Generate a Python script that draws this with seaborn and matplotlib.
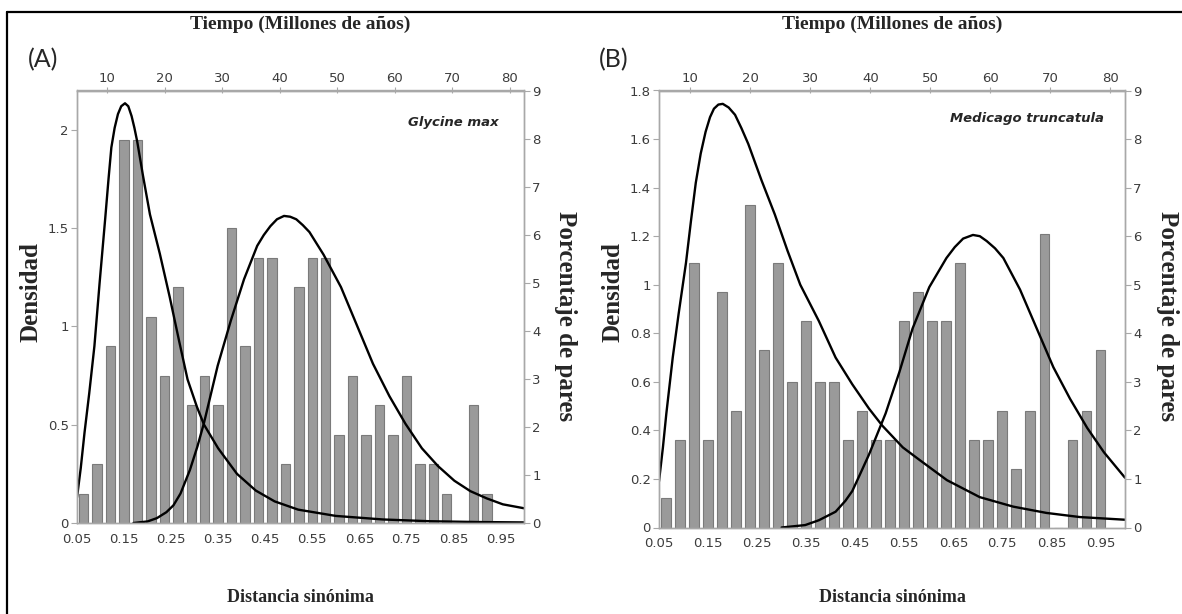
import numpy as np
import pandas as pd
import matplotlib
matplotlib.use("Agg")
import matplotlib.pyplot as plt
from matplotlib.lines import Line2D
from matplotlib.ticker import FuncFormatter
import seaborn as sns

# Ks histogram: density per bin, bins of width 1/35 starting at Ks = 0.05
bin_start = 0.05
bin_width = 1 / 35
dens_glycine = [0.15, 0.30, 0.90, 1.95, 1.95, 1.05, 0.75, 1.20, 0.60, 0.75,
                0.60, 1.50, 0.90, 1.35, 1.35, 0.30, 1.20, 1.35, 1.35, 0.45,
                0.75, 0.45, 0.60, 0.45, 0.75, 0.30, 0.30, 0.15, 0.0, 0.60,
                0.15]
dens_medicago = [0.12, 0.36, 1.09, 0.36, 0.97, 0.48, 1.33, 0.73, 1.09, 0.60,
                 0.85, 0.60, 0.60, 0.36, 0.48, 0.36, 0.36, 0.85, 0.97, 0.85,
                 0.85, 1.09, 0.36, 0.36, 0.48, 0.24, 0.48, 1.21, 0.0, 0.36,
                 0.48, 0.73]

# fitted components (Ks, density)
gly_c1_ks = [0.05, 0.058, 0.066, 0.076, 0.087, 0.098, 0.11, 0.117, 0.123, 0.13,
             0.137, 0.144, 0.152, 0.159, 0.166, 0.172, 0.178, 0.19, 0.205, 0.226,
             0.247, 0.268, 0.285, 0.305, 0.32, 0.35, 0.39, 0.43, 0.47, 0.52,
             0.6, 0.7, 0.8, 0.9, 1.0]
gly_c1_d = [0.13, 0.28, 0.46, 0.66, 0.90, 1.22, 1.55, 1.75, 1.91, 2.01,
            2.08, 2.12, 2.135, 2.12, 2.07, 2.01, 1.94, 1.77, 1.57, 1.37,
            1.15, 0.915, 0.73, 0.59, 0.50, 0.38, 0.25, 0.165, 0.11, 0.068,
            0.036, 0.018, 0.009, 0.005, 0.003]
gly_c2_ks = [0.17, 0.2, 0.22, 0.24, 0.255, 0.27, 0.29, 0.306, 0.32, 0.349,
             0.377, 0.405, 0.433, 0.447, 0.461, 0.475, 0.49, 0.503, 0.516, 0.53,
             0.544, 0.574, 0.611, 0.645, 0.679, 0.714, 0.748, 0.783, 0.817, 0.852,
             0.886, 0.921, 0.955, 1.0]
gly_c2_d = [0.0, 0.008, 0.025, 0.055, 0.09, 0.15, 0.27, 0.39, 0.51, 0.80,
            1.03, 1.24, 1.41, 1.465, 1.51, 1.545, 1.562, 1.558, 1.545, 1.515,
            1.48, 1.365, 1.20, 1.005, 0.81, 0.645, 0.505, 0.38, 0.29, 0.215,
            0.162, 0.125, 0.095, 0.075]

med_c1_ks = [0.05, 0.058, 0.065, 0.078, 0.09, 0.105, 0.115, 0.125, 0.135, 0.145,
             0.154, 0.162, 0.171, 0.18, 0.192, 0.205, 0.218, 0.232, 0.259, 0.286,
             0.312, 0.338, 0.376, 0.41, 0.444, 0.478, 0.505, 0.547, 0.58, 0.637,
             0.704, 0.772, 0.84, 0.908, 1.0]
med_c1_d = [0.19, 0.33, 0.47, 0.70, 0.88, 1.09, 1.26, 1.42, 1.54, 1.63,
            1.69, 1.725, 1.742, 1.745, 1.73, 1.70, 1.645, 1.58, 1.43, 1.29,
            1.14, 1.0, 0.85, 0.70, 0.59, 0.49, 0.42, 0.33, 0.28, 0.195,
            0.125, 0.086, 0.06, 0.043, 0.032]
med_c2_ks = [0.3, 0.348, 0.376, 0.41, 0.43, 0.444, 0.46, 0.478, 0.495, 0.512,
             0.54, 0.567, 0.601, 0.636, 0.653, 0.67, 0.69, 0.704, 0.718, 0.735,
             0.752, 0.786, 0.82, 0.854, 0.888, 0.923, 0.957, 1.0]
med_c2_d = [0.0, 0.01, 0.03, 0.065, 0.11, 0.15, 0.22, 0.30, 0.385, 0.47,
            0.64, 0.82, 0.99, 1.11, 1.155, 1.19, 1.205, 1.20, 1.18, 1.15,
            1.11, 0.98, 0.82, 0.66, 0.53, 0.41, 0.31, 0.205]

ks_ticks = [0.05, 0.15, 0.25, 0.35, 0.45, 0.55, 0.65, 0.75, 0.85, 0.95]
myr_ticks = [10, 20, 30, 40, 50, 60, 70, 80]
pct_ticks = list(range(10))


# Ks <-> millions of years
def to_myr(k):
    return (np.asarray(k) + 0.0085) / 0.01223


def to_ks(t):
    return np.asarray(t) * 0.01223 - 0.0085


BAR = "#9a9a9a"
BAR_EDGE = "#7a7a7a"
SPINE = "#a8a8a8"
TICK_TXT = "#3c3c3c"
SERIF = "Liberation Serif"

sns.set_style("white")
plt.rcParams["font.family"] = ["DejaVu Sans"]

fig = plt.figure(figsize=(11.82, 6.14), dpi=100)
W, H = 1182, 614


def draw_panel(rect, dens, curves, ymax, yticks, pct_max, species, lab):
    x0, x1, top, bot = rect
    ax = fig.add_axes([x0 / W, 1 - bot / H, (x1 - x0) / W, (bot - top) / H])

    edges = [bin_start + bin_width * i for i in range(len(dens) + 1)]
    hist = pd.DataFrame({"ks": [e + bin_width / 2 for e in edges[:-1]],
                         "dens": dens})
    sns.histplot(data=hist, x="ks", weights="dens", bins=edges, shrink=0.7,
                 color=BAR, edgecolor=BAR_EDGE, linewidth=0.8, alpha=1, ax=ax)
    for ks, d in curves:
        sns.lineplot(x=ks, y=d, color="black", linewidth=1.7, ax=ax)

    ax.set_xlim(0.05, 1.0)
    ax.set_ylim(0, ymax)
    ax.set_xlabel("")
    ax.set_ylabel("")
    ax.set_xticks(ks_ticks)
    ax.xaxis.set_major_formatter(FuncFormatter(lambda v, p: f"{v:.2f}"))
    ax.set_yticks(yticks)
    ax.yaxis.set_major_formatter(FuncFormatter(lambda v, p: f"{v:g}"))
    ax.tick_params(axis="x", bottom=True, length=0, pad=7,
                   labelsize=9.5, labelcolor=TICK_TXT)
    ax.tick_params(axis="y", left=True, length=4, width=0.8, color=SPINE,
                   pad=2, labelsize=9.5, labelcolor=TICK_TXT)

    ax2 = ax.twinx()
    ax2.set_ylim(0, pct_max)
    ax2.set_yticks(pct_ticks)
    ax2.tick_params(axis="y", right=True, length=4, width=0.8, color=SPINE,
                    pad=2, labelsize=9.5, labelcolor=TICK_TXT)

    sec = ax.secondary_xaxis("top", functions=(to_myr, to_ks))
    sec.set_xticks(myr_ticks)
    sec.tick_params(axis="x", length=4, width=0.8, color=SPINE, direction="inout",
                    pad=2, labelsize=9.5, labelcolor=TICK_TXT)

    for a in (ax, ax2, sec):
        for s in a.spines.values():
            s.set_color(SPINE)
            s.set_linewidth(1.0)

    w, h = x1 - x0, bot - top

    def axc(px, py):
        return (px - x0) / w, (bot - py) / h

    ax.text(*axc(x0 - 46, 292), "Densidad", transform=ax.transAxes,
            rotation=90, ha="center", va="center", fontsize=18,
            fontweight="bold", family=SERIF)
    ax.text(*axc(x1 + 42, 316), "Porcentaje de pares", transform=ax.transAxes,
            rotation=-90, ha="center", va="center", fontsize=18,
            fontweight="bold", family=SERIF)
    ax.text(0.5, axc(0, 598)[1], "Distancia sinónima", transform=ax.transAxes,
            ha="center", va="center", fontsize=13, fontweight="bold", family=SERIF)
    ax.text(0.5, axc(0, 24)[1], "Tiempo (Millones de años)", transform=ax.transAxes,
            ha="center", va="center", fontsize=14, fontweight="bold", family=SERIF)
    ax.text(species[1], species[2], species[0], transform=ax.transAxes,
            ha="right", va="center", fontsize=9.5, fontweight="bold",
            fontstyle="italic")
    fig.text(lab[1] / W, 1 - 60 / H, lab[0], ha="center", va="center",
             fontsize=18, family="Lato")
    return ax


draw_panel((77, 524, 90.5, 523), dens_glycine,
           [(gly_c1_ks, gly_c1_d), (gly_c2_ks, gly_c2_d)],
           2.2, [0, 0.5, 1, 1.5, 2], 9,
           ("Glycine max", 0.944, 0.926), ("(A)", 43))
draw_panel((659, 1125, 90.5, 527.5), dens_medicago,
           [(med_c1_ks, med_c1_d), (med_c2_ks, med_c2_d)],
           1.8, [0, 0.2, 0.4, 0.6, 0.8, 1, 1.2, 1.4, 1.6, 1.8], 9,
           ("Medicago truncatula", 0.955, 0.935), ("(B)", 614))

# outer frame of the composite figure
fx = 6.7 / W
fy = 1 - 11.7 / H
fig.add_artist(Line2D([fx, fx], [0, fy], color="black", lw=1.6,
                      transform=fig.transFigure))
fig.add_artist(Line2D([fx, 1], [fy, fy], color="black", lw=1.6,
                      transform=fig.transFigure))

fig.savefig("out.png", dpi=100)
